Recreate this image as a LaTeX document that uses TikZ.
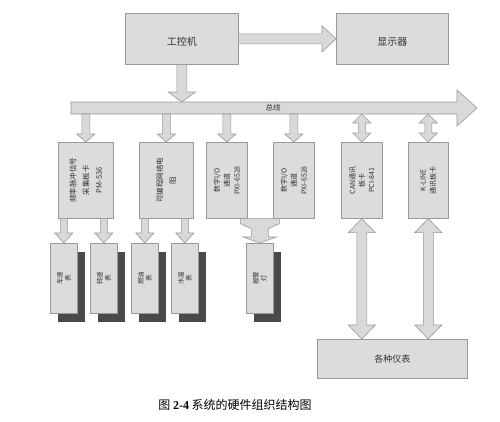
\documentclass[tikz,border=0pt]{standalone}
\usepackage{fontspec}
\setmainfont{Noto Sans CJK SC}
\newfontfamily\lserif{Liberation Serif}
\usetikzlibrary{calc}
\definecolor{boxfill}{HTML}{DCDCDC}
\definecolor{boxline}{HTML}{999999}
\definecolor{arrfill}{HTML}{D9D9D9}
\definecolor{shade}{HTML}{4A4A4A}
\definecolor{txt}{HTML}{333333}
\tikzset{
  box/.style={draw=boxline, fill=boxfill, line width=0.6pt, inner sep=0pt, anchor=north west},
  shadowbox/.style={fill=shade, draw=none, inner sep=0pt, anchor=north west},
  blk/.style={draw=boxline, fill=arrfill, line width=0.6pt, line join=miter},
  vlab/.style={rotate=90, align=center, text=txt, inner sep=0pt},
  hlab/.style={text=txt, inner sep=0pt},
}
% single block arrow pointing down: from #1 to #2, shaft half #3, head half #4, head length #5
\newcommand\DArr[5]{\filldraw[blk] let \p1=#1, \p2=#2 in
  (\x1-#3,\y1)--(\x1+#3,\y1)--(\x1+#3,\y2+#5)--(\x1+#4,\y2+#5)--(\x1,\y2)
  --(\x1-#4,\y2+#5)--(\x1-#3,\y2+#5)--cycle;}
% double block arrow, vertical
\newcommand\DDArr[5]{\filldraw[blk] let \p1=#1, \p2=#2 in
  (\x1,\y1)--(\x1+#4,\y1-#5)--(\x1+#3,\y1-#5)--(\x1+#3,\y2+#5)--(\x1+#4,\y2+#5)--(\x1,\y2)
  --(\x1-#4,\y2+#5)--(\x1-#3,\y2+#5)--(\x1-#3,\y1-#5)--(\x1-#4,\y1-#5)--cycle;}
\begin{document}
\begin{tikzpicture}[x=1pt,y=-1pt]
\useasboundingbox[fill=white] (0,0) rectangle (500,421);

% top boxes
\node[box, minimum width=113pt, minimum height=51pt] (pc) at (125,13) {};
\node[hlab, font=\fontsize{10}{12}\selectfont] (pct) at ($(pc.center)+(0,3)$) {工控机};
\node[box, minimum width=112pt, minimum height=51pt] (disp) at (336,13) {};
\node[hlab, font=\fontsize{10}{12}\selectfont] (dispt) at ($(disp.center)+(0,3)$) {显示器};

% bus
\coordinate (bust) at (0,102);
\coordinate (busb) at (0,114);
\filldraw[blk] (71,102)--(457,102)--(457,90)--(477,108)--(457,126)--(457,114)--(71,114)--cycle;
\node[hlab, font=\fontsize{7.5}{9}\selectfont] (bustxt) at (273,108) {总线};

% middle boxes
\node[box, minimum width=55pt, minimum height=76pt] (b1) at (58,142) {};
\node[box, minimum width=54pt, minimum height=76pt] (b2) at (139,142) {};
\node[box, minimum width=41pt, minimum height=76pt] (b3) at (206,142) {};
\node[box, minimum width=41pt, minimum height=76pt] (b4) at (273,142) {};
\node[box, minimum width=41pt, minimum height=76pt] (b5) at (341,142) {};
\node[box, minimum width=40pt, minimum height=76pt] (b6) at (408,142) {};
\node[vlab, font=\fontsize{7.5}{13}\selectfont] (b1t) at (b1.center) {频率脉冲信号\\采集板卡\\PM-536};
\node[vlab, font=\fontsize{7.5}{13}\selectfont] (b2t) at (b2.center) {可编程网络电\\阻};
\node[vlab, font=\fontsize{7}{10}\selectfont] (b3t) at (b3.center) {数字I/O\\通道\\PXI-6528};
\node[vlab, font=\fontsize{7}{10}\selectfont] (b4t) at (b4.center) {数字I/O\\通道\\PXI-6528};
\node[vlab, font=\fontsize{7}{9.5}\selectfont] (b5t) at (b5.center) {CAN通讯\\板卡\\PCI-841};
\node[vlab, font=\fontsize{7}{10}\selectfont] (b6t) at (b6.center) {K-LINE\\通讯板卡};

% small boxes with shadows
\foreach \n/\xx in {s1/50, s2/90, s3/131, s4/171, al/246}{
  \node[shadowbox, minimum width=27pt, minimum height=70pt] (\n sh) at (\xx+8,252) {};
  \node[box, minimum width=27pt, minimum height=70pt] (\n) at (\xx,243) {};
}
\node[vlab, font=\fontsize{6.5}{8}\selectfont] (s1t) at (s1.center) {车速\\表};
\node[vlab, font=\fontsize{6.5}{8}\selectfont] (s2t) at (s2.center) {转速\\表};
\node[vlab, font=\fontsize{6.5}{8}\selectfont] (s3t) at (s3.center) {燃油\\表};
\node[vlab, font=\fontsize{6.5}{8}\selectfont] (s4t) at (s4.center) {水温\\表};
\node[vlab, font=\fontsize{6.5}{8}\selectfont] (alt) at (al.center) {报警\\灯};

% meters box
\node[box, minimum width=150pt, minimum height=39pt] (met) at (317,339) {};
\node[hlab, font=\fontsize{9}{11}\selectfont] (mett) at (met.center) {各种仪表};

% arrows
\filldraw[blk] let \p1=(pc.east), \p2=(disp.west) in
  (\x1,\y1+5pt)--(\x2-14pt,\y1+5pt)--(\x2-14pt,\y1+13pt)--(\x2,\y1)
  --(\x2-14pt,\y1-13pt)--(\x2-14pt,\y1-5pt)--(\x1,\y1-5pt)--cycle;
\DArr{(pc.south)}{(pc.south |- bust)}{5pt}{13.5pt}{10pt}
\DArr{(b1.north |- busb)}{(b1.north)}{4pt}{9pt}{8pt}
\DArr{(b2.north |- busb)}{(b2.north)}{4pt}{9pt}{8pt}
\DArr{(b3.north |- busb)}{(b3.north)}{4pt}{9pt}{8pt}
\DArr{(b4.north |- busb)}{(b4.north)}{4pt}{9pt}{8pt}
\DDArr{(b5.north |- busb)}{(b5.north)}{3.5pt}{9pt}{9pt}
\DDArr{(b6.north |- busb)}{(b6.north)}{3.5pt}{9pt}{9pt}
\DArr{(s1.north |- b1.south)}{(s1.north)}{3.5pt}{9pt}{10pt}
\DArr{(s2.north |- b1.south)}{(s2.north)}{3.5pt}{9pt}{10pt}
\DArr{(s3.north |- b2.south)}{(s3.north)}{3.5pt}{9pt}{10pt}
\DArr{(s4.north |- b2.south)}{(s4.north)}{3.5pt}{9pt}{10pt}
\DDArr{(b5.south)}{(b5.south |- met.north)}{5pt}{13.5pt}{14pt}
\DDArr{(b6.south)}{(b6.south |- met.north)}{5pt}{13.5pt}{14pt}
% merging arrow from the two digital I/O boxes to the alarm lamp
\filldraw[blk] let \p1=(al.north), \p2=(b3.south) in
  (\x1-19.5pt,\y2)--(\x1+19.5pt,\y2)--(\x1+19.5pt,\y2-5pt)--(\x1+8.5pt,\y2-10pt)
  --(\x1+8.5pt,\y1+6pt)--(\x1+16.5pt,\y1+6pt)--(\x1,\y1)--(\x1-16.5pt,\y1+6pt)
  --(\x1-8.5pt,\y1+6pt)--(\x1-8.5pt,\y2-10pt)--(\x1-19.5pt,\y2-5pt)--cycle;

% caption
\node[inner sep=0pt, font=\fontsize{12}{14}\selectfont] (cap) at (235,405) {图 {\lserif\bfseries 2-4} 系统的硬件组织结构图};
\end{tikzpicture}
\end{document}
